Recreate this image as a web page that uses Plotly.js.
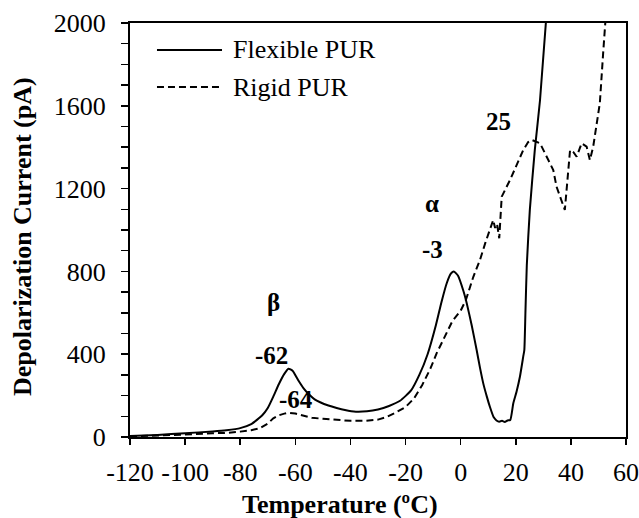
<!DOCTYPE html>
<html>
<head>
<meta charset="utf-8">
<script src="https://cdn.plot.ly/plotly-3.0.1.min.js"></script>
<style>html,body{margin:0;padding:0;background:#fff;}#chart{width:639px;height:518px;}</style>
</head>
<body>
<div id="chart"></div>
<script>
// Flexible PUR (solid)
const flexT = [-120,-110,-100,-90,-85,-80,-76,-72,-70,-68,-66,-64,-62.5,-61,-59,-57,-55,-53,-51,-48,-45,-42,-38,-34,-30,-26,-22,-18,-15,-12,-9,-7,-5,-3.5,-2.5,-1,1,2.2,4,5.8,7,8.2,9.5,10.6,12,13,14,15,16,17,18,19.1,20.3,21.5,22.7,23.1,23.5,24,25.1,26.9,28.8,31.2];
const flexV = [5,10,18,27,33,43,62,105,140,195,255,305,330,320,275,235,205,182,168,152,140,130,122,124,133,150,175,225,300,400,540,650,745,790,800,780,705,646,540,420,335,259,195,146,95,80,74,78,73,80,82,163,220,291,388,420,600,830,1097,1386,1628,2050];

// Rigid PUR (dashed)
const rigT = [-120,-110,-100,-90,-85,-80,-76,-73,-70,-68,-66,-64,-62.5,-60,-57,-54,-50,-45,-40,-35,-30,-27,-24,-20,-17,-14,-11,-8.7,-6,-3,0,1.9,4.6,7,9,10.5,11.8,12.5,13.2,14,14.9,17.9,20.5,22.7,24.5,25.8,28.8,31.2,33.6,34.8,37.8,39.7,41,42.1,43.9,45.7,46.9,48.1,49.3,50.5,51.7,52.4,52.8];
const rigV = [3,6,12,18,20,26,33,42,65,90,105,113,117,113,103,93,88,82,78,78,84,96,115,145,185,250,330,405,480,560,610,662,774,855,940,1000,1048,1010,1030,960,1161,1241,1320,1386,1425,1435,1419,1354,1290,1209,1097,1386,1375,1354,1419,1403,1338,1403,1500,1612,1853,2000,2060];

const seriesNames = ["Flexible PUR", "Rigid PUR"];

// Peak labels
const labelText = ["β", "-62", "-64", "α", "-3", "25"];
const labelT = [-67.8, -68.8, -59.8, -10.4, -10.1, 13.9];
const labelV = [652, 396, 179, 1126, 908, 1522];

const xTicks = [-120,-100,-80,-60,-40,-20,0,20,40,60];
const yTicks = [0,400,800,1200,1600,2000];

const FONT = "Liberation Serif, Times New Roman, serif";
const FS = 26;

const traces = [
  {x: flexT, y: flexV, mode: "lines", name: seriesNames[0], line: {color: "#000", width: 2, shape: "spline", smoothing: 0.5}, showlegend: false},
  {x: rigT, y: rigV, mode: "lines", name: seriesNames[1], line: {color: "#000", width: 2, dash: "7px,4px"}, showlegend: false}
];

const annotations = labelText.map((t, i) => ({
  x: labelT[i], y: labelV[i], xref: "x", yref: "y", text: "<b>" + t + "</b>",
  showarrow: false, xanchor: "center", yanchor: "middle",
  font: {family: FONT, size: 25, color: "#000"}
}));

// Legend text
annotations.push({x: 0.2036, y: 0.9348, xref: "paper", yref: "paper", text: seriesNames[0], showarrow: false, xanchor: "left", yanchor: "middle", font: {family: FONT, size: FS, color: "#000"}});
annotations.push({x: 0.2036, y: 0.8454, xref: "paper", yref: "paper", text: seriesNames[1], showarrow: false, xanchor: "left", yanchor: "middle", font: {family: FONT, size: FS, color: "#000"}});
// Axis titles
annotations.push({x: 0.4234, y: -0.164, xref: "paper", yref: "paper", text: "<b>Temperature (ºC)</b>", showarrow: false, xanchor: "center", yanchor: "middle", font: {family: FONT, size: FS, color: "#000"}});
annotations.push({x: -0.2177, y: 0.483, xref: "paper", yref: "paper", text: "<b>Depolarization Current (pA)</b>", textangle: -90, showarrow: false, xanchor: "center", yanchor: "middle", font: {family: FONT, size: FS, color: "#000"}});

const shapes = [
  {type: "line", xref: "paper", yref: "paper", x0: 0.0544, x1: 0.1855, y0: 0.9348, y1: 0.9348, line: {color: "#000", width: 2}},
  {type: "line", xref: "paper", yref: "paper", x0: 0.0544, x1: 0.1855, y0: 0.8454, y1: 0.8454, line: {color: "#000", width: 2, dash: "7px,4px"}}
];

const layout = {
  width: 639, height: 518,
  margin: {l: 130, r: 13, t: 23, b: 81},
  paper_bgcolor: "#fff", plot_bgcolor: "#fff",
  font: {family: FONT, size: FS, color: "#000"},
  showlegend: false,
  xaxis: {
    range: [-120, 60], tickvals: xTicks, ticktext: xTicks.map(String),
    ticks: "outside", ticklen: 6, tickwidth: 1.5, tickcolor: "#000",
    showline: true, linecolor: "#000", linewidth: 2, mirror: true,
    showgrid: false, zeroline: false, ticklabelstandoff: 5,
    tickfont: {family: FONT, size: FS, color: "#000"}
  },
  yaxis: {
    range: [0, 2000], tickvals: yTicks, ticktext: yTicks.map(String),
    ticks: "outside", ticklen: 7, tickwidth: 1.5, tickcolor: "#000",
    minor: {dtick: 100, tick0: 0, ticks: "outside", ticklen: 7, tickwidth: 1.5, tickcolor: "#000", showgrid: false},
    showline: true, linecolor: "#000", linewidth: 2, mirror: true,
    showgrid: false, zeroline: false, ticklabelstandoff: 10,
    tickfont: {family: FONT, size: FS, color: "#000"}
  },
  annotations: annotations,
  shapes: shapes
};

Plotly.newPlot("chart", traces, layout, {staticPlot: true, displayModeBar: false});
</script>
</body>
</html>
